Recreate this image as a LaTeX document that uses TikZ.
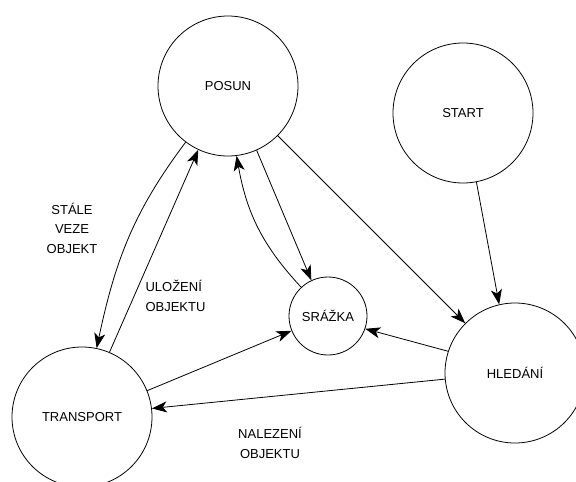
\documentclass[tikz,border=0pt]{standalone}
\usepackage{fontspec}
\setmainfont{Liberation Sans}
\usetikzlibrary{arrows.meta,calc,positioning}

\begin{document}
\begin{tikzpicture}[x=1pt,y=-1pt,
    state/.style={draw,circle,line width=0.8pt,inner sep=0pt,font=\fontsize{13}{16}\selectfont},
    arr/.style={-{Stealth[length=15pt,width=11pt,inset=4pt]},line width=0.8pt},
    lbl/.style={font=\fontsize{13}{19.5}\selectfont,align=center}]
        \useasboundingbox (0,0) rectangle (576,482);
        \clip (0,0) rectangle (576,482);
        % States
        \node[state,minimum size=140pt] (posun) at (228,86) {POSUN};
        \node[state,minimum size=140pt] (start) at (463,113) {START};
        \node[state,minimum size=140pt] (transport) at (82,417) {TRANSPORT};
        \node[state,minimum size=78pt] (srazka) at (328,316) {SRÁŽKA};
        \node[state,minimum size=140pt] (hledani) at (515,373) {HLEDÁNÍ};
        % Transitions
        \draw[arr] (posun.233) to[out=233,in=78] (transport.78);
        \draw[arr] (transport.67) -- (posun.245);
        \draw[arr] (srazka.133) to[out=133,in=280] (posun.277);
        \draw[arr] (posun.294) -- (srazka.115);
        \draw[arr] (posun.315) -- (hledani.135);
        \draw[arr] (start.281) -- (hledani.103);
        \draw[arr] (hledani.162) -- (srazka.341);
        \draw[arr] (transport.22) -- (srazka.202);
        \draw[arr] (hledani.185) -- (transport.7);
        % Labels
        \node[lbl] (stale) at (72,228) {STÁLE\\VEZE\\OBJEKT};
        \node[lbl,anchor=west,align=left] (ulozeni) at (142,296) {ULOŽENÍ\\ OBJEKTU};
        \node[lbl] (nalezeni) at (270,443) {NALEZENÍ\\OBJEKTU};
      \end{tikzpicture}
\end{document}
